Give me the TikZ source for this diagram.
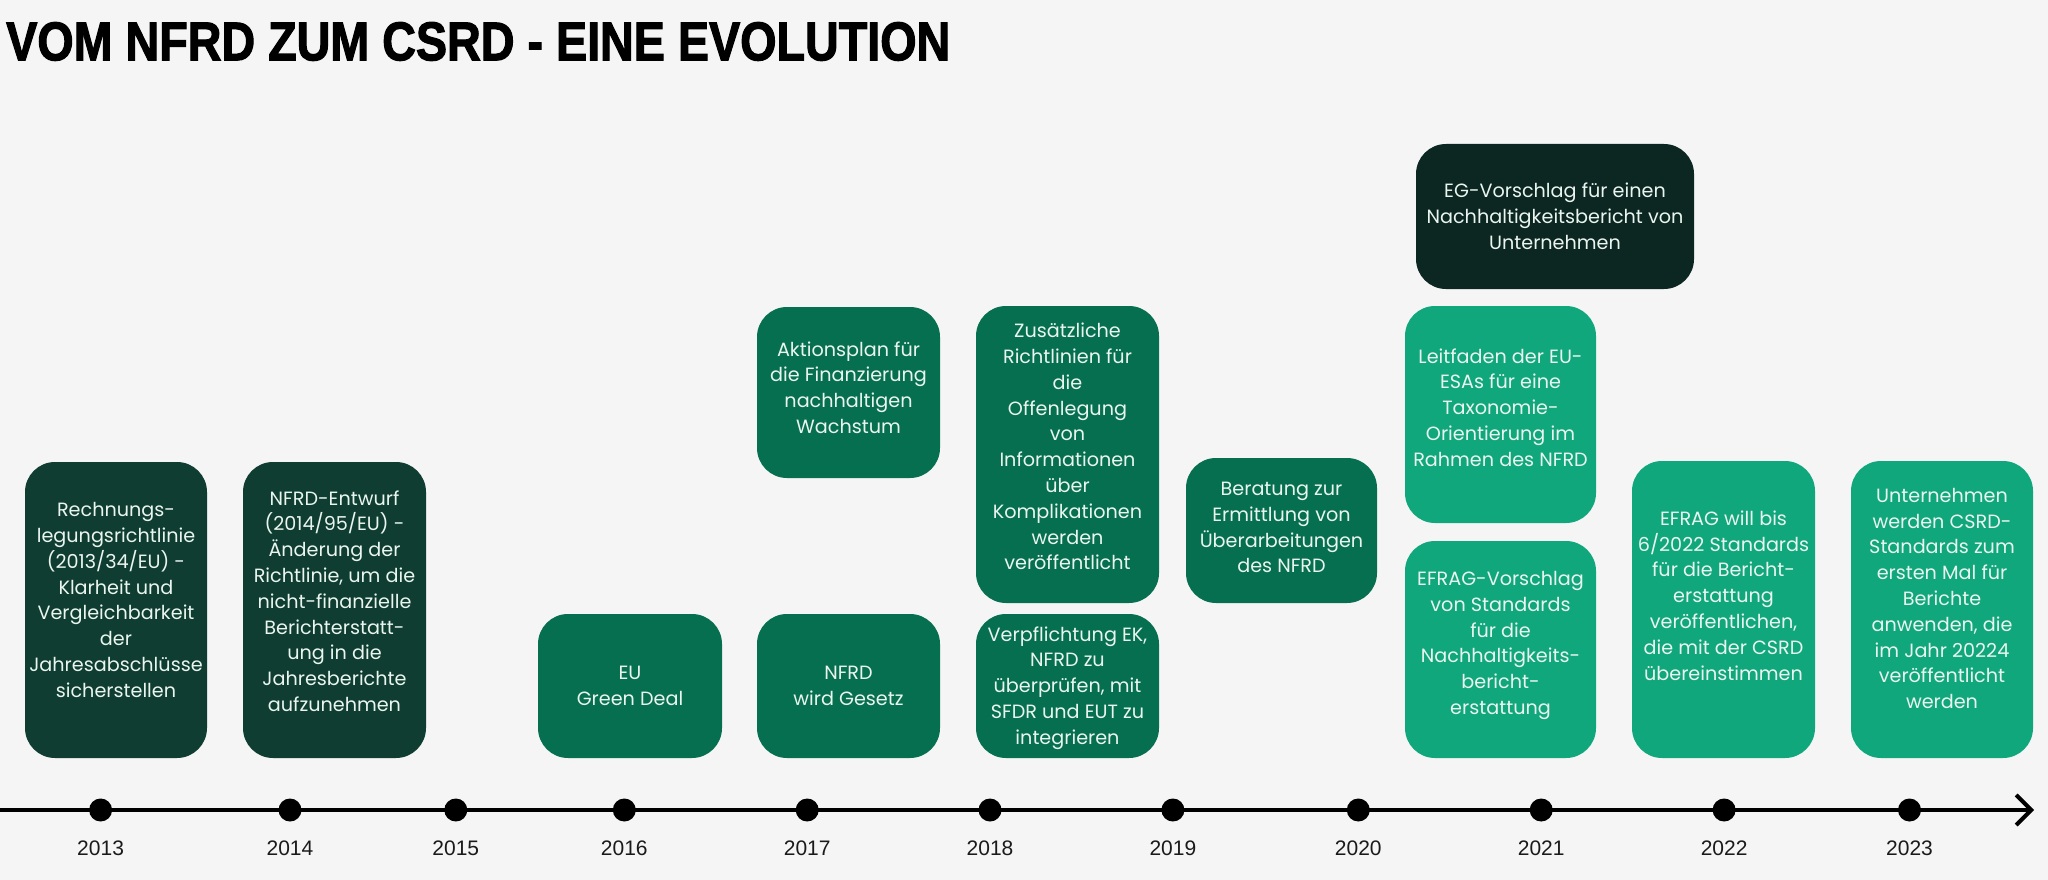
\documentclass[tikz,border=0pt]{standalone}
\usepackage{fontspec}
\setmainfont{Poppins}
\newfontfamily\yearfont{Liberation Sans}
\newfontfamily\titlefont[FakeBold=2.2]{Liberation Sans}
\usetikzlibrary{arrows.meta}
\definecolor{bg}{HTML}{F5F5F5}
\definecolor{cdark}{HTML}{0F3D31}
\definecolor{cmid}{HTML}{066F50}
\definecolor{clight}{HTML}{11A77C}
\definecolor{cblack}{HTML}{0C2621}
\definecolor{ctext}{HTML}{EAF5EF}
\definecolor{cyear}{HTML}{1A1A1A}
\begin{document}
\begin{tikzpicture}[x=1pt,y=-1pt,
  box/.style={rounded corners=30pt, inner sep=0pt, draw=none},
  boxtext/.style={text=ctext, align=center, font=\fontsize{19.2}{25.8}\selectfont, inner sep=0pt},
  dot/.style={circle, fill=black, minimum size=23pt, inner sep=0pt},
  yearlbl/.style={font=\yearfont\fontsize{21}{25}\selectfont, text=cyear, inner sep=0pt},
  axis/.style={line width=4pt, line cap=round, -{Straight Barb[length=15pt,width=30pt,line width=4pt]}}]
\fill[bg] (0,0) rectangle (2048,880);
\useasboundingbox (0,0) rectangle (2048,880);

% title
\node[anchor=north west, inner sep=0pt] (title) at (6,22) {\resizebox{944pt}{38pt}{\titlefont\bfseries VOM NFRD ZUM CSRD - EINE EVOLUTION}};

% timeline
\coordinate (tl0) at (0,810);
\coordinate (tl1) at (2034,810);
\draw[axis] (tl0) -- (tl1);

\foreach \yr/\xx in {2013/100.6,2014/290,2015/455.8,2016/624.3,2017/807.2,2018/990,2019/1172.9,2020/1358.3,2021/1541.2,2022/1724.1,2023/1909.5}{
  \node[dot] (d\yr) at (\xx,810) {};
  \node[yearlbl] (y\yr) at (\xx,848) {\yr};
}

% boxes
\node[box, fill=cdark, minimum width=182pt, minimum height=296pt] (b13) at (116,610) {};
\node[boxtext] (t13) at ([yshift=10pt]b13.center) {Rechnungs-\\legungsrichtlinie\\(2013/34/EU) -\\Klarheit und\\Vergleichbarkeit\\der\\Jahresabschlüsse\\sicherstellen};

\node[box, fill=cdark, minimum width=183pt, minimum height=296pt] (b14) at (334.5,610) {};
\node[boxtext] (t14) at ([yshift=9pt]b14.center) {NFRD-Entwurf\\(2014/95/EU) -\\Änderung der\\Richtlinie, um die\\nicht-finanzielle\\Berichterstatt-\\ung in die\\Jahresberichte\\aufzunehmen};

\node[box, fill=cmid, minimum width=184pt, minimum height=144pt] (b16) at (630,686) {};
\node[boxtext] (t16) at (b16.center) {EU\\Green Deal};

\node[box, fill=cmid, minimum width=183pt, minimum height=171pt] (b17a) at (848.5,392.5) {};
\node[boxtext] (t17a) at ([yshift=5pt]b17a.center) {Aktionsplan für\\die Finanzierung\\nachhaltigen\\Wachstum};

\node[box, fill=cmid, minimum width=183pt, minimum height=144pt] (b17b) at (848.5,686) {};
\node[boxtext] (t17b) at (b17b.center) {NFRD\\wird Gesetz};

\node[box, fill=cmid, minimum width=183pt, minimum height=297pt] (b18a) at (1067.5,454.5) {};
\node[boxtext] (t18a) at ([yshift=8pt]b18a.center) {Zusätzliche\\Richtlinien für\\die\\Offenlegung\\von\\Informationen\\über\\Komplikationen\\werden\\veröffentlicht};

\node[box, fill=cmid, minimum width=183pt, minimum height=144pt] (b18b) at (1067.5,686) {};
\node[boxtext] (t18b) at ([yshift=-2pt]b18b.center) {Verpflichtung EK,\\NFRD zu\\überprüfen, mit\\SFDR und EUT zu\\integrieren};

\node[box, fill=cmid, minimum width=191pt, minimum height=145pt] (b19) at (1281.5,530.5) {};
\node[boxtext] (t19) at ([yshift=3pt]b19.center) {Beratung zur\\Ermittlung von\\Überarbeitungen\\des NFRD};

\node[box, fill=cblack, minimum width=278pt, minimum height=145pt] (b21a) at (1555,216.5) {};
\node[boxtext] (t21a) at (b21a.center) {EG-Vorschlag für einen\\Nachhaltigkeitsbericht von\\Unternehmen};

\node[box, fill=clight, minimum width=191pt, minimum height=217pt] (b21b) at (1500.5,414.5) {};
\node[boxtext] (t21b) at ([yshift=7pt]b21b.center) {Leitfaden der EU-\\ESAs für eine\\Taxonomie-\\Orientierung im\\Rahmen des NFRD};

\node[box, fill=clight, minimum width=191pt, minimum height=217pt] (b21c) at (1500.5,649.5) {};
\node[boxtext] (t21c) at ([yshift=4pt]b21c.center) {EFRAG-Vorschlag\\von Standards\\für die\\Nachhaltigkeits-\\bericht-\\erstattung};

\node[box, fill=clight, minimum width=183pt, minimum height=297pt] (b22) at (1723.5,609.5) {};
\node[boxtext] (t22) at ([yshift=14pt]b22.center) {EFRAG will bis\\6/2022 Standards\\für die Bericht-\\erstattung\\veröffentlichen,\\die mit der CSRD\\übereinstimmen};

\node[box, fill=clight, minimum width=182pt, minimum height=297pt] (b23) at (1942,609.5) {};
\node[boxtext] (t23) at ([yshift=11pt]b23.center) {Unternehmen\\werden CSRD-\\Standards zum\\ersten Mal für\\Berichte\\anwenden, die\\im Jahr 20224\\veröffentlicht\\werden};
\end{tikzpicture}
\end{document}
